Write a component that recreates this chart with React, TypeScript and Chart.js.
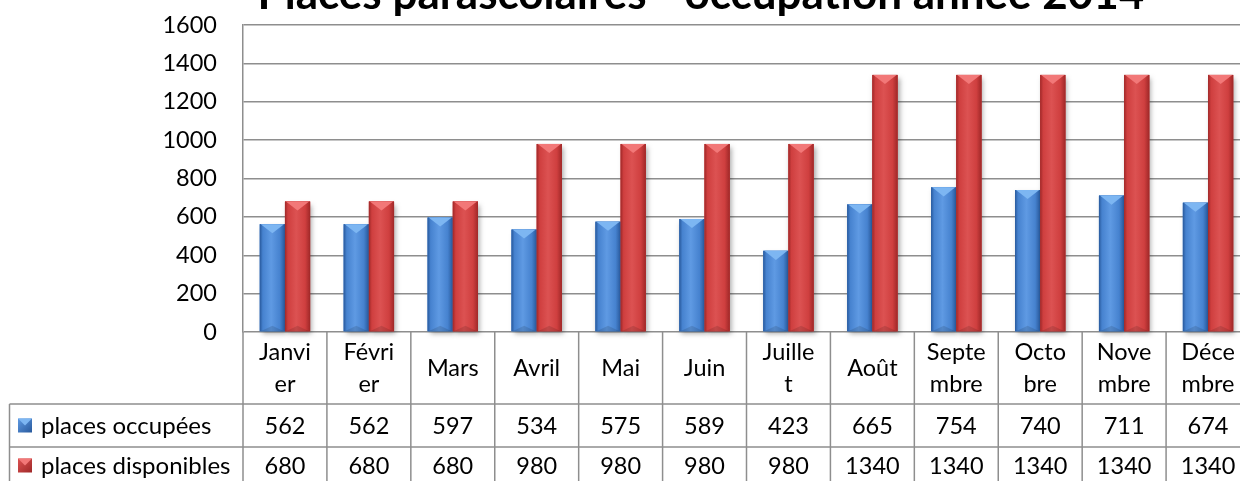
import React, { useEffect, useRef } from "react";
import { Chart, registerables } from "chart.js";

Chart.register(...registerables);

const titleText = "Places parascolaires - occupation année 2014";
const months = ["Janvier", "Février", "Mars", "Avril", "Mai", "Juin", "Juillet", "Août", "Septembre", "Octobre", "Novembre", "Décembre"];
const monthLines = [["Janvi", "er"], ["Févri", "er"], ["Mars"], ["Avril"], ["Mai"], ["Juin"], ["Juille", "t"], ["Août"], ["Septe", "mbre"], ["Octo", "bre"], ["Nove", "mbre"], ["Déce", "mbre"]];
const seriesNames = ["places occupées", "places disponibles"];
const occupied = [562, 562, 597, 534, 575, 589, 423, 665, 754, 740, 711, 674];
const available = [680, 680, 680, 980, 980, 980, 980, 1340, 1340, 1340, 1340, 1340];
const yMin = 0;
const yMax = 1600;
const yStep = 200;

const FONT = "Lato, 'Noto Sans', sans-serif";
const FS = 23.5;
const gridColor = "#8e8e8e";
const palettes = [
  { mid: "#4682cf", dark: "#28599c", light: "#5f9ae3", bevel: "#7db6f2" },
  { mid: "#cf3f3f", dark: "#9f2828", light: "#dc5252", bevel: "#f27878" },
];

const barStylePlugin = {
  id: "barStyle",
  afterDatasetsDraw(chart: any) {
    const ctx = chart.ctx;
    ctx.save();
    chart.data.datasets.forEach((_: any, di: number) => {
      const meta = chart.getDatasetMeta(di);
      const p = palettes[di];
      meta.data.forEach((bar: any) => {
        const { x, y, base, width } = bar.getProps(["x", "y", "base", "width"], true);
        const l = x - width / 2;
        const r = x + width / 2;
        const h = base - y;
        ctx.save();
        ctx.shadowColor = "rgba(0,0,0,0.35)";
        ctx.shadowBlur = 5;
        ctx.shadowOffsetX = 2;
        ctx.shadowOffsetY = 3;
        ctx.fillStyle = p.mid;
        ctx.fillRect(l, y, width, h);
        ctx.restore();
        const g = ctx.createLinearGradient(l, 0, r, 0);
        g.addColorStop(0, p.dark);
        g.addColorStop(0.12, p.mid);
        g.addColorStop(0.45, p.light);
        g.addColorStop(0.8, p.mid);
        g.addColorStop(1, p.dark);
        ctx.fillStyle = g;
        ctx.fillRect(l, y, width, h);
        const depth = Math.min(width * 0.36, h / 2);
        ctx.fillStyle = p.bevel;
        ctx.beginPath();
        ctx.moveTo(l + 1, y);
        ctx.lineTo(r - 1, y);
        ctx.lineTo(x, y + depth);
        ctx.closePath();
        ctx.fill();
        ctx.fillStyle = "rgba(0,0,0,0.12)";
        ctx.beginPath();
        ctx.moveTo(l + 1, base);
        ctx.lineTo(r - 1, base);
        ctx.lineTo(x, base - depth * 0.6);
        ctx.closePath();
        ctx.fill();
      });
    });
    ctx.restore();
  },
};

const tablePlugin = {
  id: "dataTable",
  afterDraw(chart: any) {
    const { ctx, chartArea } = chart;
    const xs = chart.scales.x;
    const n = months.length;
    const colW = (chartArea.right - chartArea.left) / n;
    const top = chartArea.bottom;
    const r0 = top + 72;
    const r1 = r0 + 43;
    const r2 = r1 + 43;
    const tableLeft = 9.5;
    ctx.save();
    ctx.strokeStyle = gridColor;
    ctx.lineWidth = 1.5;
    const line = (x1: number, y1: number, x2: number, y2: number) => {
      ctx.beginPath();
      ctx.moveTo(x1, y1);
      ctx.lineTo(x2, y2);
      ctx.stroke();
    };
    line(tableLeft, r0, chartArea.right, r0);
    line(tableLeft, r1, chartArea.right, r1);
    line(tableLeft, r2, chartArea.right, r2);
    line(tableLeft, r0, tableLeft, r2);
    for (let i = 0; i < n; i++) {
      const cx = xs.getPixelForValue(i);
      line(cx - colW / 2, top, cx - colW / 2, r2);
      if (i === n - 1) line(cx + colW / 2, top, cx + colW / 2, r2);
    }
    ctx.fillStyle = "#000";
    ctx.font = `${FS}px ${FONT}`;
    ctx.textAlign = "center";
    ctx.textBaseline = "middle";
    const c0 = (top + r0) / 2;
    const c1 = (r0 + r1) / 2 + 1;
    const c2 = (r1 + r2) / 2 - 2;
    for (let i = 0; i < n; i++) {
      const cx = xs.getPixelForValue(i);
      const lines = monthLines[i];
      if (lines.length === 1) {
        ctx.fillText(lines[0], cx, c0);
      } else {
        ctx.fillText(lines[0], cx, c0 - 16);
        ctx.fillText(lines[1], cx, c0 + 16);
      }
      ctx.fillText(String(occupied[i]), cx, c1);
      ctx.fillText(String(available[i]), cx, c2);
    }
    ctx.textAlign = "left";
    ctx.font = `24px ${FONT}`;
    [c1, c2].forEach((cy, di) => {
      const p = palettes[di];
      const kx = 18;
      const ks = 14;
      const ky = cy - ks / 2 - 1;
      const g = ctx.createLinearGradient(kx, ky, kx + ks, ky + ks);
      g.addColorStop(0, p.light);
      g.addColorStop(1, p.dark);
      ctx.fillStyle = g;
      ctx.fillRect(kx, ky, ks, ks);
      ctx.fillStyle = p.bevel;
      ctx.beginPath();
      ctx.moveTo(kx, ky);
      ctx.lineTo(kx + ks, ky);
      ctx.lineTo(kx + ks / 2, ky + ks / 2);
      ctx.closePath();
      ctx.fill();
      ctx.fillStyle = "#000";
      ctx.fillText(seriesNames[di], 41, cy);
    });
    ctx.font = `bold 44px ${FONT}`;
    ctx.textAlign = "center";
    ctx.textBaseline = "alphabetic";
    ctx.fillText(titleText, 701, 9);
    ctx.restore();
  },
};

export default function App() {
  const ref = useRef<HTMLCanvasElement | null>(null);
  useEffect(() => {
    if (!ref.current) return;
    const chart = new Chart(ref.current, {
      type: "bar",
      data: {
        labels: months,
        datasets: [
          { label: seriesNames[0], data: occupied, backgroundColor: palettes[0].mid, borderWidth: 0 },
          { label: seriesNames[1], data: available, backgroundColor: palettes[1].mid, borderWidth: 0 },
        ],
      },
      options: {
        responsive: false,
        animation: false,
        devicePixelRatio: 1,
        layout: { padding: { left: 0, right: 0, top: 25, bottom: 149 } },
        datasets: { bar: { categoryPercentage: 0.6, barPercentage: 1.0 } },
        plugins: { legend: { display: false }, title: { display: false }, tooltip: { enabled: false } },
        scales: {
          x: { display: false },
          y: {
            min: yMin,
            max: yMax,
            ticks: {
              stepSize: yStep,
              color: "#000",
              font: { family: FONT, size: FS },
              padding: 26,
              callback: (v: any) => String(v),
            },
            grid: { color: gridColor, lineWidth: 1.5, drawTicks: false },
            border: { display: true, color: gridColor, width: 1.5 },
            afterFit: (scale: any) => {
              scale.width = 243;
              scale.paddingTop = 0;
              scale.paddingBottom = 0;
            },
          },
        },
      },
      plugins: [barStylePlugin, tablePlugin],
    } as any);
    return () => chart.destroy();
  }, []);
  return (
    <div style={{ position: "fixed", left: 0, top: 0, width: 1240, height: 481, overflow: "hidden", background: "#fff" }}>
      <canvas ref={ref} width={1250} height={481} style={{ display: "block" }} />
    </div>
  );
}
